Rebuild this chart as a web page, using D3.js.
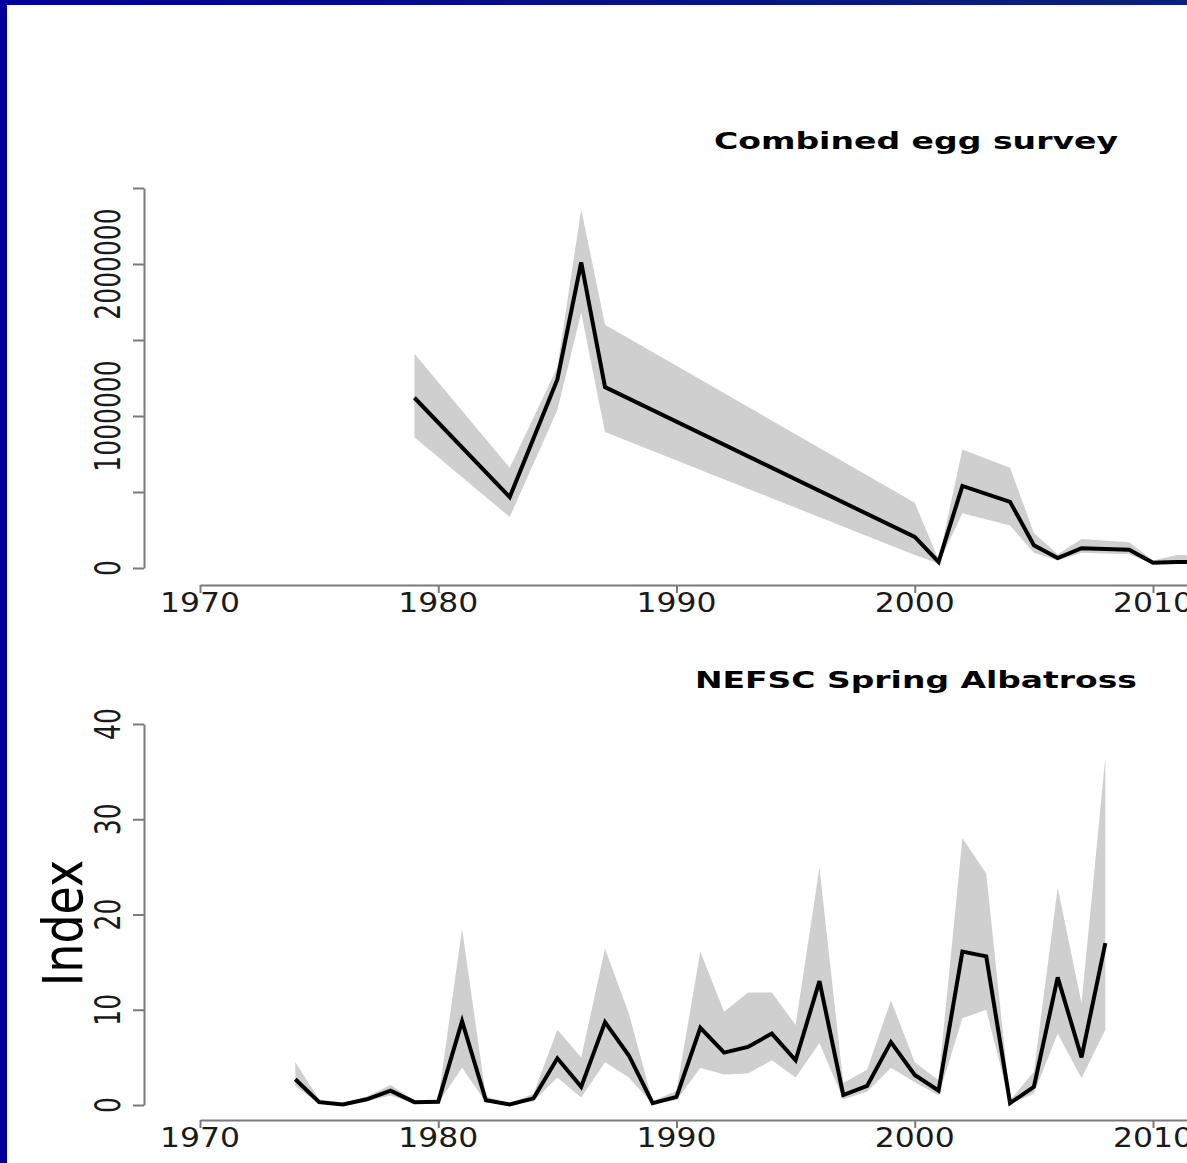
<!DOCTYPE html>
<html>
<head>
<meta charset="utf-8">
<script src="https://cdn.jsdelivr.net/npm/d3@7"></script>
<style>
  body { margin: 0; background: #fff; }
  svg { display: block; font-family: "DejaVu Sans", sans-serif; }
</style>
</head>
<body>
<div id="chart_div"></div>
<script>
// Combined egg survey (index with upper / lower bounds)
const eggYears = [1979, 1983, 1985, 1986, 1987, 2000, 2001, 2002, 2004, 2005, 2006, 2007, 2009, 2010, 2011, 2012];
const eggIndex = [1120000, 467000, 1240000, 2010000, 1190000, 204000, 40000, 540000, 435000, 150000, 65000, 130000, 120000, 35000, 40000, 40000];
const eggLower = [860000, 335000, 1040000, 1680000, 895000, 85000, 30000, 360000, 280000, 100000, 50000, 100000, 90000, 25000, 30000, 30000];
const eggUpper = [1410000, 660000, 1320000, 2360000, 1600000, 430000, 55000, 780000, 660000, 230000, 90000, 190000, 170000, 50000, 85000, 85000];

// NEFSC Spring Albatross, 1974-2008
const albYears = d3.range(1974, 2009);
const albIndex = [2.7, 0.3, 0.05, 0.6, 1.5, 0.3, 0.35, 8.8, 0.5, 0.05, 0.7, 4.9, 1.9, 8.7, 5.2, 0.2, 0.85, 8.1, 5.5, 6.1, 7.5, 4.7, 13.0, 1.05, 2.0, 6.6, 3.15, 1.5, 16.1, 15.6, 0.2, 1.9, 13.4, 5.0, 17.0];
const albLower = [2.0, 0.15, 0.02, 0.4, 1.0, 0.15, 0.2, 3.9, 0.25, 0.02, 0.4, 2.9, 0.8, 4.5, 2.9, 0.1, 0.5, 3.9, 3.2, 3.3, 4.7, 2.9, 6.5, 0.6, 1.4, 3.9, 2.4, 1.0, 9.1, 10.0, 0.1, 1.2, 7.5, 2.8, 7.9];
const albUpper = [4.5, 0.6, 0.15, 0.9, 2.1, 0.5, 0.6, 18.5, 0.9, 0.15, 1.2, 7.9, 5.0, 16.4, 9.6, 0.4, 1.5, 16.1, 9.8, 11.8, 11.8, 8.4, 24.9, 2.3, 3.7, 11.0, 4.5, 2.6, 28.0, 24.3, 0.5, 3.5, 22.8, 10.7, 36.5];

// axis ticks and labels
const xTicks = [1970, 1980, 1990, 2000, 2010, 2020];
const eggTicks = [0, 500000, 1000000, 1500000, 2000000, 2500000];
const eggTickLabels = ["0", "", "1000000", "", "2000000", ""];
const albTicks = [0, 10, 20, 30, 40];

const width = 1187;
const height = 1163;

const svg = d3.select("#chart_div").append("svg")
  .attr("width", width)
  .attr("height", height);

// blue slide frame
const grad = svg.append("defs").append("linearGradient")
  .attr("id", "frame").attr("x1", 0).attr("x2", 1).attr("y1", 0).attr("y2", 0);
grad.append("stop").attr("offset", 0).attr("stop-color", "#000099");
grad.append("stop").attr("offset", 1).attr("stop-color", "#0c2275");
svg.append("rect").attr("width", width).attr("height", height).attr("fill", "#fff");
svg.append("rect").attr("x", 0).attr("y", 0).attr("width", width).attr("height", 5).attr("fill", "url(#frame)");
svg.append("rect").attr("x", 0).attr("y", 0).attr("width", 7).attr("height", height).attr("fill", "#000099");

const x = d3.scaleLinear().domain([1970, 2010]).range([200, 1153]);

// draws one panel: ribbon, line, axes, labels
function panel(cfg) {
  const y = d3.scaleLinear().domain(cfg.yDomain).range(cfg.yRange);
  const rows = cfg.years.map((yr, i) => ({ yr, v: cfg.index[i], lo: cfg.lower[i], hi: cfg.upper[i] }));

  const area = d3.area()
    .x(d => x(d.yr))
    .y0(d => y(d.lo))
    .y1(d => y(d.hi));
  const line = d3.line()
    .x(d => x(d.yr))
    .y(d => y(d.v));

  svg.append("path").datum(rows)
    .attr("d", area)
    .attr("fill", "#cfcfcf");

  svg.append("path").datum(rows)
    .attr("d", line)
    .attr("fill", "none")
    .attr("stroke", "#000")
    .attr("stroke-width", 4)
    .attr("stroke-linejoin", "miter");

  // y axis
  const gy = svg.append("g")
    .attr("transform", `translate(144,0)`)
    .call(d3.axisLeft(y).tickValues(cfg.yTicks).tickSize(11).tickSizeOuter(0).tickFormat(""));
  gy.selectAll("path, line").attr("stroke", "#7a7a7a").attr("stroke-width", 2);

  cfg.yTicks.forEach((t, i) => {
    const lab = cfg.yLabels[i];
    if (!lab) return;
    svg.append("text")
      .attr("transform", `translate(120,${y(t)}) scale(1.45,1) rotate(-90)`)
      .attr("text-anchor", "middle")
      .attr("font-size", 25)
      .attr("fill", "#1a1a1a")
      .text(lab);
  });

  // x axis
  const gx = svg.append("g")
    .attr("transform", `translate(0,${cfg.xAxisY})`)
    .call(d3.axisBottom(x.copy().domain([1970, 2020]).range([200, 200 + 50 * (1153 - 200) / 40]))
      .tickValues(xTicks).tickSize(8).tickSizeOuter(0).tickFormat(""));
  gx.selectAll("path, line").attr("stroke", "#7a7a7a").attr("stroke-width", 2);

  xTicks.forEach(t => {
    svg.append("text")
      .attr("x", x(t) - 40)
      .attr("y", cfg.xAxisY + 27)
      .attr("font-size", 26)
      .attr("fill", "#1a1a1a")
      .attr("textLength", 80)
      .attr("lengthAdjust", "spacingAndGlyphs")
      .text(String(t));
  });

  // title
  svg.append("text")
    .attr("x", 916 - cfg.titleWidth / 2)
    .attr("y", cfg.titleY)
    .attr("font-size", 23)
    .attr("font-weight", "bold")
    .attr("fill", "#000")
    .attr("textLength", cfg.titleWidth)
    .attr("lengthAdjust", "spacingAndGlyphs")
    .text(cfg.title);
}

panel({
  title: "Combined egg survey", titleY: 149, titleWidth: 404,
  years: eggYears, index: eggIndex, lower: eggLower, upper: eggUpper,
  yDomain: [0, 2500000], yRange: [568, 188],
  yTicks: eggTicks, yLabels: eggTickLabels,
  xAxisY: 585
});

panel({
  title: "NEFSC Spring Albatross", titleY: 688, titleWidth: 442,
  years: albYears, index: albIndex, lower: albLower, upper: albUpper,
  yDomain: [0, 40], yRange: [1105, 724],
  yTicks: albTicks, yLabels: albTicks.map(String),
  xAxisY: 1120
});

// shared y label
svg.append("text")
  .attr("transform", `translate(82,923) scale(1.2,1) rotate(-90)`)
  .attr("text-anchor", "middle")
  .attr("font-size", 46)
  .attr("fill", "#000")
  .text("Index");
</script>
</body>
</html>
